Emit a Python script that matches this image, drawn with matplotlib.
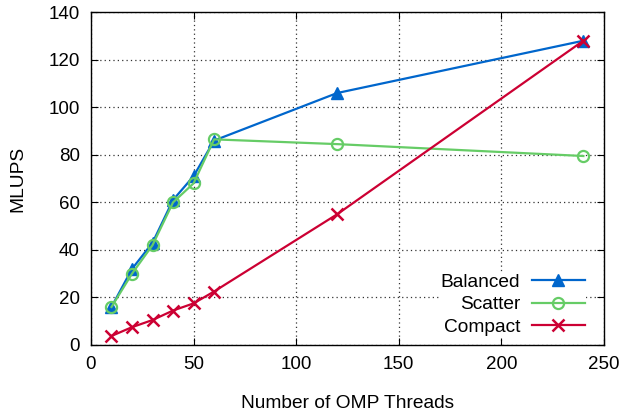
import matplotlib
matplotlib.use("Agg")
import matplotlib.pyplot as plt

threads = [10, 20, 30, 40, 50, 60, 120, 240]
balanced = [16, 32, 43, 61, 71, 86, 106, 128]
scatter = [16, 30, 42, 60, 68, 86.5, 84.5, 79.5]
compact = [3.8, 7.5, 10.5, 14.5, 17.5, 22.5, 55, 128]

plt.rcParams['font.family'] = ['Liberation Sans', 'DejaVu Sans']
fig = plt.figure(figsize=(6.24, 4.16), dpi=100)
ax = fig.add_axes([0.1458, 0.1707, 0.822, 0.800])

ax.plot(threads, balanced, color='#0066cc', lw=1.6, marker='^', ms=8, label='Balanced')
ax.plot(threads, scatter, color='#66cc66', lw=1.6, marker='o', ms=8, mfc='none', mew=1.6, label='Scatter')
ax.plot(threads, compact, color='#cc0033', lw=1.6, marker='x', ms=9, mew=1.8, label='Compact')

ax.set_xlim(0, 250)
ax.set_ylim(0, 140)
ax.set_xticks(range(0, 251, 50))
ax.set_yticks(range(0, 141, 20))
ax.tick_params(direction='in', top=True, right=True, length=5, labelsize=13.5, pad=8)
ax.grid(True, color='#333333', ls=(0, (1, 2.5)), lw=0.9)
ax.set_axisbelow(True)
for s in ax.spines.values():
    s.set_linewidth(1.0)
ax.set_xlabel('Number of OMP Threads', fontsize=13.8, labelpad=16)
ax.set_ylabel('MLUPS', fontsize=13.8, labelpad=16)
leg = ax.legend(loc='lower right', bbox_to_anchor=(0.966, 0.022), markerfirst=False,
                prop={'size': 13.8}, frameon=True,
                framealpha=1, edgecolor='none', fancybox=False, handlelength=2.75,
                borderpad=0.1, labelspacing=0.26, handletextpad=0.6, borderaxespad=0.0)
fig.savefig('out.png', dpi=100)
